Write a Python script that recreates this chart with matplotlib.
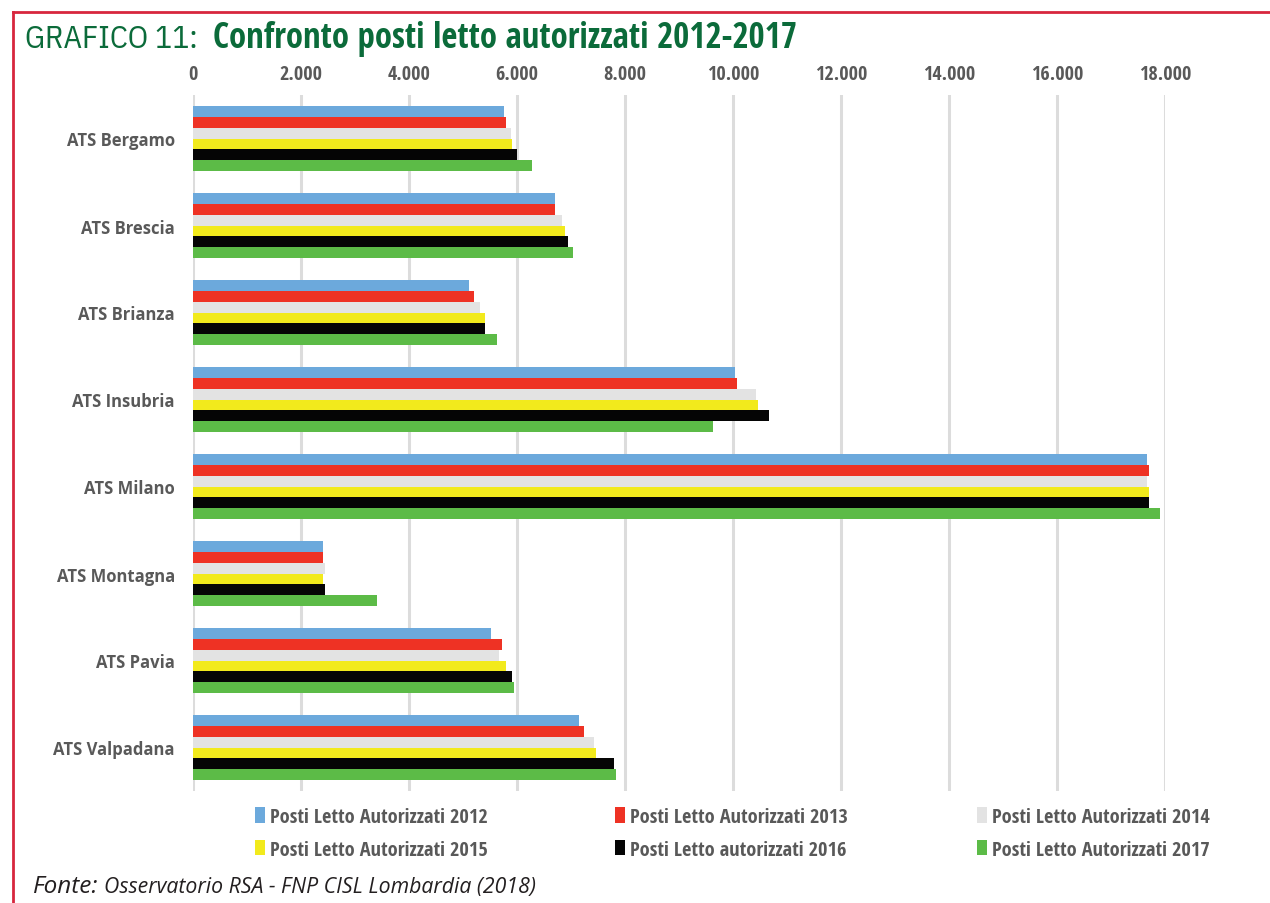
import matplotlib
matplotlib.use("Agg")
import matplotlib.pyplot as plt
from matplotlib.patches import Patch
from matplotlib.lines import Line2D
import numpy as np

categories = ["ATS Bergamo", "ATS Brescia", "ATS Brianza", "ATS Insubria",
              "ATS Milano", "ATS Montagna", "ATS Pavia", "ATS Valpadana"]
series_names = ["Posti Letto Autorizzati 2012", "Posti Letto Autorizzati 2013",
                "Posti Letto Autorizzati 2014", "Posti Letto Autorizzati 2015",
                "Posti Letto autorizzati 2016", "Posti Letto Autorizzati 2017"]
v2012 = [5750, 6710, 5120, 10030, 17660, 2400, 5510, 7150]
v2013 = [5790, 6710, 5200, 10070, 17705, 2400, 5720, 7235]
v2014 = [5880, 6835, 5320, 10430, 17660, 2440, 5675, 7435]
v2015 = [5915, 6880, 5400, 10470, 17705, 2400, 5790, 7470]
v2016 = [6000, 6950, 5400, 10670, 17705, 2440, 5915, 7790]
v2017 = [6270, 7040, 5630, 9630, 17900, 3400, 5950, 7830]
series_values = [v2012, v2013, v2014, v2015, v2016, v2017]
colors = ["#6CA9DC", "#EE3224", "#E3E3E3", "#F2EA1C", "#050505", "#5CBB47"]
xticks = [0, 2000, 4000, 6000, 8000, 10000, 12000, 14000, 16000, 18000]
xtick_labels = ["0", "2.000", "4.000", "6.000", "8.000", "10.000", "12.000",
                "14.000", "16.000", "18.000"]

COND_B = ["Open Sans Condensed", "DejaVu Sans"]
COND_R = ["IBM Plex Sans Condensed", "DejaVu Sans"]
GRAY = "#595959"
GREEN = "#0B6B3A"

W, H = 1270, 904
fig = plt.figure(figsize=(W / 100, H / 100), dpi=100)
ax = fig.add_axes([193 / W, 1 - 792 / H, (1165 - 193) / W, (792 - 96) / H])

n = len(series_values)
h = 0.125
y = np.arange(len(categories))
for i, (vals, c) in enumerate(zip(series_values, colors)):
    ax.barh(y + (i - (n - 1) / 2) * h, vals, height=h, color=c, zorder=3,
            edgecolor="none")

ax.set_xlim(0, 18000)
ax.set_ylim(len(categories) - 0.5, -0.5)
ax.set_xticks(xticks)
ax.set_xticklabels(xtick_labels, family=COND_B, fontweight="bold",
                   fontsize=14.5, color=GRAY)
ax.xaxis.tick_top()
ax.tick_params(axis="x", length=0, pad=8)
ax.set_yticks(y)
ax.set_yticklabels(categories, family=["Open Sans", "DejaVu Sans"],
                   fontweight="bold", fontsize=12, color=GRAY)
ax.tick_params(axis="y", length=0, pad=13)
ax.grid(axis="x", color="#DCDCDC", linewidth=2.2, zorder=0)
ax.grid(axis="y", visible=False)
for s in ax.spines.values():
    s.set_visible(False)

# Legend: three columns placed at fixed x positions
handles = [Patch(facecolor=c, edgecolor="none") for c in colors]
col_x = [255, 615, 977]
for col in range(3):
    idx = [col, col + 3]
    leg = fig.legend([handles[k] for k in idx], [series_names[k] for k in idx],
                     ncol=1, loc="upper left",
                     bbox_to_anchor=(col_x[col] / W, 1 - 808 / H),
                     frameon=False, borderpad=0, borderaxespad=0,
                     handlelength=0.5, handleheight=0.8, handletextpad=0.25,
                     labelspacing=0.62,
                     prop={"family": COND_B, "weight": "bold", "size": 14.7})
    for t in leg.get_texts():
        t.set_color(GRAY)

# Title
fig.text(25 / W, 1 - 39 / H, "GRAFICO 11:", family=COND_R, fontsize=23,
         color=GREEN, va="center", ha="left")
fig.text(213 / W, 1 - 39 / H, "Confronto posti letto autorizzati 2012-2017",
         family=COND_B, fontsize=25, fontweight="bold", color=GREEN,
         va="center", ha="left")

# Source
fig.text(33 / W, 1 - 893 / H, "Fonte:", family=["Open Sans", "DejaVu Sans"],
         style="italic", fontsize=17.5, color="#231F20", va="baseline",
         ha="left")
fig.text(104 / W, 1 - 893 / H, "Osservatorio RSA - FNP CISL Lombardia (2018)",
         family=["Open Sans", "DejaVu Sans"], style="italic", fontsize=15.3,
         color="#231F20", va="baseline", ha="left")

# Red frame lines
fig.add_artist(Line2D([13 / W, 1.0], [1 - 13 / H, 1 - 13 / H],
                      color="#D7263D", linewidth=2, transform=fig.transFigure))
fig.add_artist(Line2D([13 / W, 13 / W], [1 - 13 / H, 0.0],
                      color="#D7263D", linewidth=2, transform=fig.transFigure))

fig.savefig("out.png", dpi=100)
